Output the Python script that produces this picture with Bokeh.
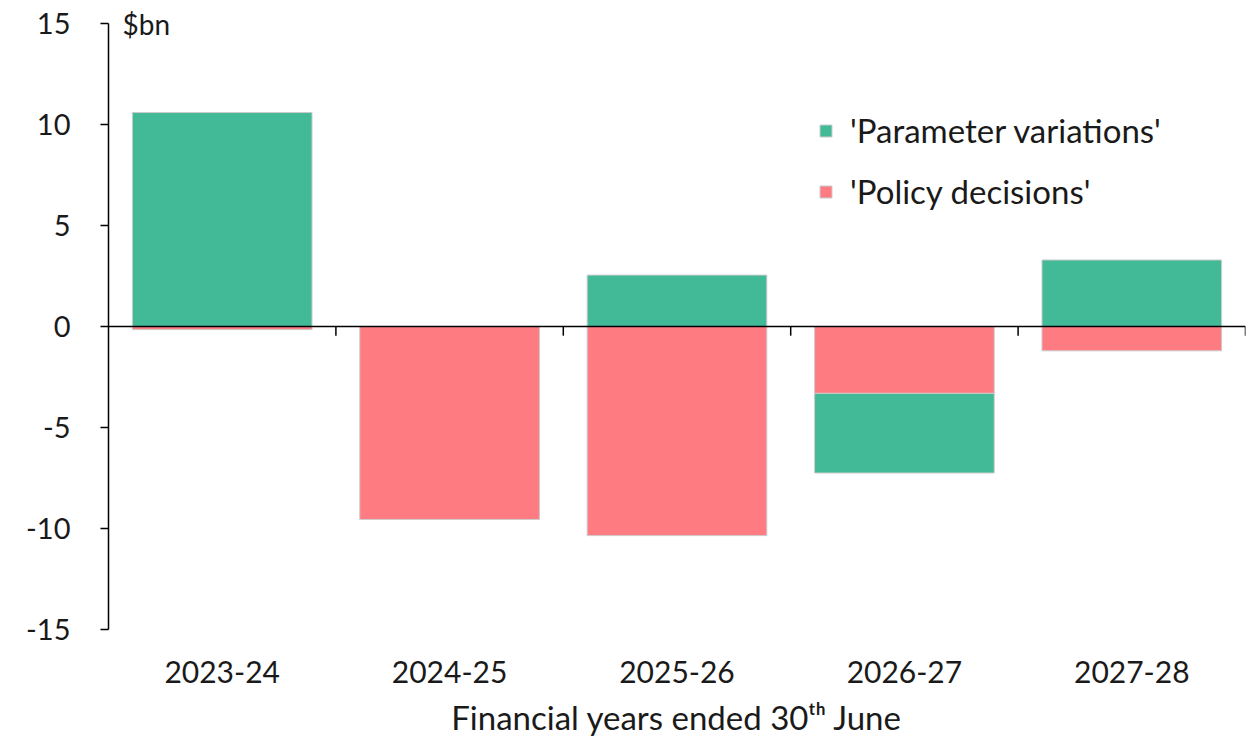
from bokeh.plotting import figure
from bokeh.models import (Range1d, LinearAxis, FixedTicker, ColumnDataSource,
                          Legend, LegendItem, Label, Span)
from bokeh.embed import file_html
from bokeh.resources import INLINE

categories = ["2023-24", "2024-25", "2025-26", "2026-27", "2027-28"]
parameter_variations = [10.6, 0.0, 2.55, -3.95, 3.3]
policy_decisions = [-0.15, -9.55, -10.35, -3.3, -1.2]
y_ticks = [-15, -10, -5, 0, 5, 10, 15]
y_tick_labels = ["-15", "-10", "-5", "0", "5", "10", "15"]

GREEN = "#43BA97"
RED = "#FF7B82"
FONT = "Lato"
TXT = "#1a1a1a"

# stack positives up from zero, negatives down from zero (policy first)
xs = [i + 0.5 for i in range(len(categories))]
par_bot, par_top, pol_bot, pol_top = [], [], [], []
for pv, pd in zip(parameter_variations, policy_decisions):
    pos, neg = 0.0, 0.0
    if pd >= 0:
        pol_bot.append(pos); pol_top.append(pos + pd); pos += pd
    else:
        pol_top.append(neg); pol_bot.append(neg + pd); neg += pd
    if pv >= 0:
        par_bot.append(pos); par_top.append(pos + pv); pos += pv
    else:
        par_top.append(neg); par_bot.append(neg + pv); neg += pv

src = ColumnDataSource(dict(x=xs, pb=par_bot, pt=par_top, qb=pol_bot, qt=pol_top))

p = figure(width=1248, height=739, output_backend="svg", toolbar_location=None,
           x_range=Range1d(0, len(categories)), y_range=Range1d(-15, 16),
           x_axis_location=None, y_axis_location=None,
           min_border_left=108, min_border_right=3, min_border_top=3, min_border_bottom=106)
p.outline_line_color = None
p.xgrid.visible = False
p.ygrid.visible = False
p.background_fill_color = "white"
p.border_fill_color = "white"

r_par = p.vbar(x="x", bottom="pb", top="pt", width=0.79, source=src,
               fill_color=GREEN, line_color="#cccccc", line_width=1)
r_pol = p.vbar(x="x", bottom="qb", top="qt", width=0.79, source=src,
               fill_color=RED, line_color="#cccccc", line_width=1)

# zero line and category boundary ticks
p.add_layout(Span(location=0, dimension="width", line_color="black", line_width=1.5))
bounds_x = [i + 1 for i in range(len(categories))]
p.segment(x0=bounds_x, x1=bounds_x, y0=[0] * len(bounds_x), y1=[-0.45] * len(bounds_x),
          line_color="black", line_width=1.5)

# y axis
yaxis = LinearAxis(ticker=FixedTicker(ticks=y_ticks), bounds=(-15, 15),
                   major_label_overrides={t: s for t, s in zip(y_ticks, y_tick_labels)})
yaxis.axis_line_color = "black"
yaxis.axis_line_width = 1.5
yaxis.major_tick_line_width = 1.5
yaxis.major_tick_out = 8
yaxis.major_tick_in = 0
yaxis.minor_tick_line_color = None
yaxis.major_label_standoff = 30
yaxis.major_label_text_font = FONT
yaxis.major_label_text_font_size = "29px"
yaxis.major_label_text_color = TXT
p.add_layout(yaxis, "left")

# category labels axis
xaxis = LinearAxis(ticker=FixedTicker(ticks=xs),
                   major_label_overrides={x: c for x, c in zip(xs, categories)})
xaxis.axis_line_color = None
xaxis.major_tick_line_color = None
xaxis.minor_tick_line_color = None
xaxis.major_tick_out = 0
xaxis.major_tick_in = 0
xaxis.major_label_standoff = 31
xaxis.major_label_text_font = FONT
xaxis.major_label_text_font_size = "30px"
xaxis.major_label_text_color = TXT
xaxis.axis_label = "Financial years ended 30ᵗʰ June"
xaxis.axis_label_text_font = FONT
xaxis.axis_label_text_font_size = "33px"
xaxis.axis_label_text_font_style = "normal"
xaxis.axis_label_text_color = TXT
xaxis.axis_label_standoff = 11
p.add_layout(xaxis, "below")

p.add_layout(Label(x=0, y=15, text="$bn", x_offset=14, text_baseline="middle",
                   text_font=FONT, text_font_size="28px", text_color=TXT))

legend = Legend(items=[LegendItem(label="'Parameter variations'", renderers=[r_par]),
                       LegendItem(label="'Policy decisions'", renderers=[r_pol])],
                location=(710, 418), orientation="vertical")
legend.border_line_color = None
legend.background_fill_alpha = 0
legend.padding = 0
legend.margin = 0
legend.glyph_width = 15
legend.glyph_height = 15
legend.label_standoff = 17
legend.spacing = 21
legend.label_text_font = FONT
legend.label_text_font_size = "33px"
legend.label_text_color = TXT
p.add_layout(legend, "center")

open("out.html", "w").write(file_html(p, INLINE))
